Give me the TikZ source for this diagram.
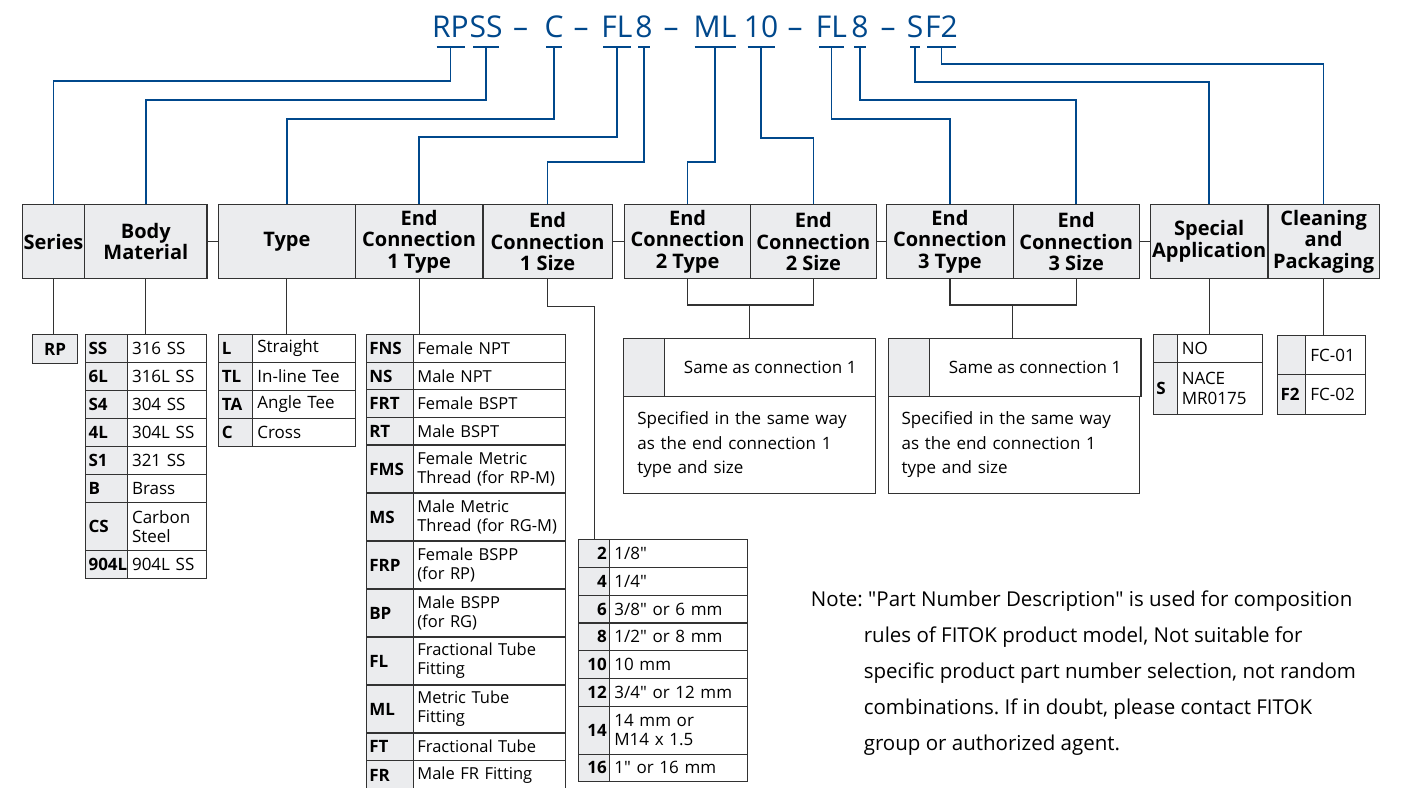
\documentclass[tikz,border=0pt]{standalone}
\usepackage{fontspec}
\setmainfont{Open Sans}[Ligatures=TeXOff]
\frenchspacing
\definecolor{fitblue}{RGB}{0,72,140}
\definecolor{cellgray}{RGB}{235,236,238}
\definecolor{rulegray}{RGB}{50,50,50}

\begin{document}
\begin{tikzpicture}[x=1pt, y=-1pt,
    pnpart/.style={text=fitblue, font=\fontsize{30}{34}\selectfont, inner sep=0pt, anchor=base},
    tickmark/.style={draw=fitblue, line width=1.8pt},
    bluewire/.style={draw=fitblue, line width=1.5pt},
    wire/.style={draw=rulegray, line width=1.1pt},
    hdr/.style={draw=rulegray, fill=cellgray, line width=1.1pt, anchor=north west, inner sep=0pt, minimum height=74pt, align=center, font=\fontsize{20}{21.5}\selectfont\bfseries},
    code/.style={draw=rulegray, fill=cellgray, line width=1.1pt, anchor=north west, inner xsep=3pt, inner ysep=0pt, align=left, font=\fontsize{17}{19.5}\selectfont\bfseries},
    desc/.style={draw=rulegray, fill=white, line width=1.1pt, anchor=north west, inner xsep=4.5pt, inner ysep=0pt, align=left, font=\fontsize{17}{19.5}\selectfont},
    para/.style={desc, inner xsep=13.6pt, text width=224.6pt, minimum height=96.5pt, font=\fontsize{17}{24.5}\selectfont},
    note/.style={anchor=north west, inner sep=0pt, align=left, font=\fontsize{20.5}{36}\selectfont},
    bmcode/.style={code, text width=36pt}, bmdesc/.style={desc, text width=70.3pt},
    tycode/.style={code, text width=28pt}, tydesc/.style={desc, text width=93.7pt},
    eccode/.style={code, text width=41.6pt}, ecdesc/.style={desc, inner xsep=3.5pt, text width=144.7pt, font=\fontsize{16.5}{19.5}\selectfont},
    szcode/.style={code, text width=25pt, align=right}, szdesc/.style={desc, text width=128.4pt},
    spcode/.style={code, text width=18pt}, spdesc/.style={desc, text width=76pt},
    clcode/.style={code, text width=22.3pt}, cldesc/.style={desc, text width=50.7pt}
]
\fill[white] (0,0) rectangle (1405,787);
\useasboundingbox (0,0) rectangle (1405,787);

% Part number
\node[pnpart] (tRP) at (450.5,37.5) {RP};
\node[pnpart] (tSS) at (486,37.5) {SS};
\node[pnpart] (d1) at (520.7,37.5) {–};
\node[pnpart] (tC) at (554,37.5) {C};
\node[pnpart] (d2) at (581,37.5) {–};
\node[pnpart] (tFL) at (617,37.5) {FL};
\node[pnpart] (t8) at (644,37.5) {8};
\node[pnpart] (d3) at (671,37.5) {–};
\node[pnpart] (tML) at (715,37.5) {ML};
\node[pnpart] (t10) at (761,37.5) {10};
\node[pnpart] (d4) at (795,37.5) {–};
\node[pnpart] (tFLb) at (831.5,37.5) {FL};
\node[pnpart] (t8b) at (860,37.5) {8};
\node[pnpart] (d5) at (888,37.5) {–};
\node[pnpart] (tS) at (915,37.5) {S};
\node[pnpart] (tF2) at (941.5,37.5) {F2};

\coordinate (kRP) at ([yshift=-9.5pt]tRP.base);
\coordinate (kSS) at ([yshift=-9.5pt]tSS.base);
\coordinate (kC) at ([yshift=-9.5pt]tC.base);
\coordinate (kFL) at ([yshift=-9.5pt]tFL.base);
\coordinate (k8) at ([yshift=-9.5pt]t8.base);
\coordinate (kML) at ([yshift=-9.5pt]tML.base);
\coordinate (k10) at ([yshift=-9.5pt]t10.base);
\coordinate (kFLb) at ([yshift=-9.5pt]tFLb.base);
\coordinate (k8b) at ([yshift=-9.5pt]t8b.base);
\coordinate (kS) at ([yshift=-9.5pt]tS.base);
\coordinate (kF2) at ([yshift=-9.5pt]tF2.base);

\draw[tickmark] ([xshift=-14pt]kRP) -- ([xshift=14pt]kRP);
\draw[tickmark] ([xshift=-13pt]kSS) -- ([xshift=13pt]kSS);
\draw[tickmark] ([xshift=-8pt]kC) -- ([xshift=8pt]kC);
\draw[tickmark] ([xshift=-14pt]kFL) -- ([xshift=14pt]kFL);
\draw[tickmark] ([xshift=-6pt]k8) -- ([xshift=6pt]k8);
\draw[tickmark] ([xshift=-20.5pt]kML) -- ([xshift=20.5pt]kML);
\draw[tickmark] ([xshift=-13.5pt]k10) -- ([xshift=13.5pt]k10);
\draw[tickmark] ([xshift=-12.5pt]kFLb) -- ([xshift=12.5pt]kFLb);
\draw[tickmark] ([xshift=-6pt]k8b) -- ([xshift=6pt]k8b);
\draw[tickmark] ([xshift=-5pt]kS) -- ([xshift=5pt]kS);
\draw[tickmark] ([xshift=-14.5pt]kF2) -- ([xshift=14.5pt]kF2);

% Headers
\node[hdr, minimum width=62.5pt] (ser) at (21.7,204) {Series};
\node[hdr, minimum width=122.2pt] (bm) at (84.2,204) {Body\\Material};
\node[hdr, minimum width=136.8pt] (typ) at (217.9,204) {Type};
\node[hdr, minimum width=127.7pt] (ec1t) at (354.7,204) {End\\Connection\\1 Type};
\node[hdr, minimum width=129.3pt] (ec1s) at (482.4,204) {End\\Connection\\1 Size};
\node[hdr, minimum width=125.9pt] (ec2t) at (624.1,204) {End\\Connection\\2 Type};
\node[hdr, minimum width=125.7pt] (ec2s) at (750,204) {End\\Connection\\2 Size};
\node[hdr, minimum width=126.8pt] (ec3t) at (886,204) {End\\Connection\\3 Type};
\node[hdr, minimum width=125.7pt] (ec3s) at (1012.8,204) {End\\Connection\\3 Size};
\node[hdr, minimum width=117.6pt] (spa) at (1149.8,204) {Special\\Application};
\node[hdr, minimum width=111.4pt] (cln) at (1267.4,204) {Cleaning\\and\\Packaging};

\draw[wire] (bm.east) -- (typ.west);
\draw[wire] (ec1s.east) -- (ec2t.west);
\draw[wire] (ec2s.east) -- (ec3t.west);
\draw[wire] (ec3s.east) -- (spa.west);

% Links from part number
\draw[bluewire] (kRP) -- ++(0,34) -| (ser.north);
\draw[bluewire] (kSS) -- ++(0,53) -| (bm.north);
\draw[bluewire] (kC) -- ++(0,72) -| (typ.north);
\draw[bluewire] (kFL) -- ++(0,90) -| (ec1t.north);
\draw[bluewire] (k8) -- ++(0,115) -| (ec1s.north);
\draw[bluewire] (kML) -- ++(0,115) -| (ec2t.north);
\draw[bluewire] (k10) -- ++(0,91) -| (ec2s.north);
\draw[bluewire] (kFLb) -- ++(0,72) -| (ec3t.north);
\draw[bluewire] (k8b) -- ++(0,53) -| (ec3s.north);
\draw[bluewire] (kS) -- ++(0,35) -| (spa.north);
\draw[bluewire] (kF2) -- ++(0,17) -| (cln.north);

% Series
\node[code, align=center, minimum width=44.4pt, minimum height=29.3pt] (rp) at (32.3,334) {RP};

% Body material
\node[bmcode, minimum height=28pt] (bmc1) at (85,334) {SS};
\node[bmdesc, minimum height=28pt] (bm1) at (127,334) {316 SS};
\node[bmcode, minimum height=28pt] (bmc2) at (85,362) {6L};
\node[bmdesc, minimum height=28pt] (bm2) at (127,362) {316L SS};
\node[bmcode, minimum height=28pt] (bmc3) at (85,390) {S4};
\node[bmdesc, minimum height=28pt] (bm3) at (127,390) {304 SS};
\node[bmcode, minimum height=28pt] (bmc4) at (85,418) {4L};
\node[bmdesc, minimum height=28pt] (bm4) at (127,418) {304L SS};
\node[bmcode, minimum height=28pt] (bmc5) at (85,446) {S1};
\node[bmdesc, minimum height=28pt] (bm5) at (127,446) {321 SS};
\node[bmcode, minimum height=28pt] (bmc6) at (85,474) {B};
\node[bmdesc, minimum height=28pt] (bm6) at (127,474) {Brass};
\node[bmcode, minimum height=48pt] (bmc7) at (85,502) {CS};
\node[bmdesc, minimum height=48pt] (bm7) at (127,502) {Carbon\\Steel};
\node[bmcode, minimum height=28pt] (bmc8) at (85,550) {904L};
\node[bmdesc, minimum height=28pt] (bm8) at (127,550) {904L SS};

% Type
\node[tycode, minimum height=28pt] (tyc1) at (218.3,334) {L};
\node[tydesc, minimum height=28pt] (ty1) at (252.3,334) {Straight};
\node[tycode, minimum height=28pt] (tyc2) at (218.3,362) {TL};
\node[tydesc, minimum height=28pt] (ty2) at (252.3,362) {In-line Tee};
\node[tycode, minimum height=28pt] (tyc3) at (218.3,390) {TA};
\node[tydesc, minimum height=28pt] (ty3) at (252.3,390) {Angle Tee};
\node[tycode, minimum height=28pt] (tyc4) at (218.3,418) {C};
\node[tydesc, minimum height=28pt] (ty4) at (252.3,418) {Cross};

% End connection 1 type
\node[eccode, minimum height=27.6pt] (ecc1) at (365.7,334) {FNS};
\node[ecdesc, minimum height=27.6pt] (ec1) at (413.3,334) {Female NPT};
\node[eccode, minimum height=27.6pt] (ecc2) at (365.7,361.6) {NS};
\node[ecdesc, minimum height=27.6pt] (ec2) at (413.3,361.6) {Male NPT};
\node[eccode, minimum height=27.6pt] (ecc3) at (365.7,389.2) {FRT};
\node[ecdesc, minimum height=27.6pt] (ec3) at (413.3,389.2) {Female BSPT};
\node[eccode, minimum height=27.6pt] (ecc4) at (365.7,416.8) {RT};
\node[ecdesc, minimum height=27.6pt] (ec4) at (413.3,416.8) {Male BSPT};
\node[eccode, minimum height=48pt] (ecc5) at (365.7,444.4) {FMS};
\node[ecdesc, minimum height=48pt] (ec5) at (413.3,444.4) {Female Metric\\Thread (for RP-M)};
\node[eccode, minimum height=48pt] (ecc6) at (365.7,492.4) {MS};
\node[ecdesc, minimum height=48pt] (ec6) at (413.3,492.4) {Male Metric\\Thread (for RG-M)};
\node[eccode, minimum height=48pt] (ecc7) at (365.7,540.4) {FRP};
\node[ecdesc, minimum height=48pt] (ec7) at (413.3,540.4) {Female BSPP\\(for RP)};
\node[eccode, minimum height=48pt] (ecc8) at (365.7,588.4) {BP};
\node[ecdesc, minimum height=48pt] (ec8) at (413.3,588.4) {Male BSPP\\(for RG)};
\node[eccode, minimum height=48pt] (ecc9) at (365.7,636.4) {FL};
\node[ecdesc, minimum height=48pt] (ec9) at (413.3,636.4) {Fractional Tube\\Fitting};
\node[eccode, minimum height=48pt] (ecc10) at (365.7,684.4) {ML};
\node[ecdesc, minimum height=48pt] (ec10) at (413.3,684.4) {Metric Tube\\Fitting};
\node[eccode, minimum height=27.6pt] (ecc11) at (365.7,732.4) {FT};
\node[ecdesc, minimum height=27.6pt] (ec11) at (413.3,732.4) {Fractional Tube};
\node[eccode, minimum height=30pt] (ecc12) at (365.7,760) {FR};
\node[ecdesc, minimum height=30pt] (ec12) at (413.3,760) {Male FR Fitting};

% End connection 1 size
\node[szcode, minimum height=27.7pt] (szc1) at (578.3,539.3) {2};
\node[szdesc, minimum height=27.7pt] (sz1) at (609.3,539.3) {1/8"};
\node[szcode, minimum height=27.7pt] (szc2) at (578.3,567) {4};
\node[szdesc, minimum height=27.7pt] (sz2) at (609.3,567) {1/4"};
\node[szcode, minimum height=27.7pt] (szc3) at (578.3,594.7) {6};
\node[szdesc, minimum height=27.7pt] (sz3) at (609.3,594.7) {3/8" or 6 mm};
\node[szcode, minimum height=27.7pt] (szc4) at (578.3,622.4) {8};
\node[szdesc, minimum height=27.7pt] (sz4) at (609.3,622.4) {1/2" or 8 mm};
\node[szcode, minimum height=27.7pt] (szc5) at (578.3,650.1) {10};
\node[szdesc, minimum height=27.7pt] (sz5) at (609.3,650.1) {10 mm};
\node[szcode, minimum height=27.7pt] (szc6) at (578.3,677.8) {12};
\node[szdesc, minimum height=27.7pt] (sz6) at (609.3,677.8) {3/4" or 12 mm};
\node[szcode, minimum height=48pt] (szc7) at (578.3,705.5) {14};
\node[szdesc, minimum height=48pt] (sz7) at (609.3,705.5) {14 mm or\\M14 x 1.5};
\node[szcode, minimum height=27.7pt] (szc8) at (578.3,753.5) {16};
\node[szdesc, minimum height=27.7pt] (sz8) at (609.3,753.5) {1" or 16 mm};

% End connection 2 and 3
\node[code, minimum width=41.1pt, minimum height=58.5pt] (sa2c) at (623.2,337.5) {};
\node[desc, align=center, minimum width=210.7pt, minimum height=58.5pt] (sa2) at (664.3,337.5) {Same as connection 1};
\node[para] (sp2) at (623.2,396) {Specified in the same way\\as the end connection 1\\type and size};
\node[code, minimum width=41.1pt, minimum height=58.5pt] (sa3c) at (887.5,337.5) {};
\node[desc, align=center, minimum width=211.8pt, minimum height=58.5pt] (sa3) at (928.6,337.5) {Same as connection 1};
\node[para] (sp3) at (887.5,396) {Specified in the same way\\as the end connection 1\\type and size};

% Special application
\node[spcode, minimum height=27.4pt] (noc1) at (1152.7,334.3) {};
\node[spdesc, minimum height=27.4pt] (no1) at (1176.7,334.3) {NO};
\node[spcode, minimum height=52.3pt] (noc2) at (1152.7,361.7) {S};
\node[spdesc, minimum height=52.3pt] (no2) at (1176.7,361.7) {NACE\\MR0175};

% Cleaning and packaging
\node[clcode, minimum height=39.8pt] (fcc1) at (1277,334.5) {};
\node[cldesc, minimum height=39.8pt] (fc1) at (1305.3,334.5) {FC-01};
\node[clcode, minimum height=39.7pt] (fcc2) at (1277,374.3) {F2};
\node[cldesc, minimum height=39.7pt] (fc2) at (1305.3,374.3) {FC-02};

% Links to tables
\coordinate (j2) at (749.5,305);
\coordinate (j3) at (1012.5,305);
\draw[wire] (ser.south) -- (ser.south |- rp.north);
\draw[wire] (bm.south) -- (bm.south |- bm1.north);
\draw[wire] (typ.south) -- (typ.south |- ty1.north);
\draw[wire] (ec1t.south) -- (ec1t.south |- ec1.north);
\draw[wire] (ec1s.south) -- ++(0,27) -| (szc1.north);
\draw[wire] (ec2t.south) |- (j2) -| (ec2s.south);
\draw[wire] (j2) -- (j2 |- sa2.north);
\draw[wire] (ec3t.south) |- (j3) -| (ec3s.south);
\draw[wire] (j3) -- (j3 |- sa3.north);
\draw[wire] (spa.south) -- (spa.south |- no1.north);
\draw[wire] (cln.south) -- (cln.south |- fc1.north);

% Note
\node[note] (nt) at (810.7,591) {Note: "Part Number Description" is used for composition\\\hspace*{52.9pt}rules of FITOK product model, Not suitable for\\\hspace*{52.9pt}specific product part number selection, not random\\\hspace*{52.9pt}combinations. If in doubt, please contact FITOK\\\hspace*{52.9pt}group or authorized agent.};
\end{tikzpicture}
\end{document}
